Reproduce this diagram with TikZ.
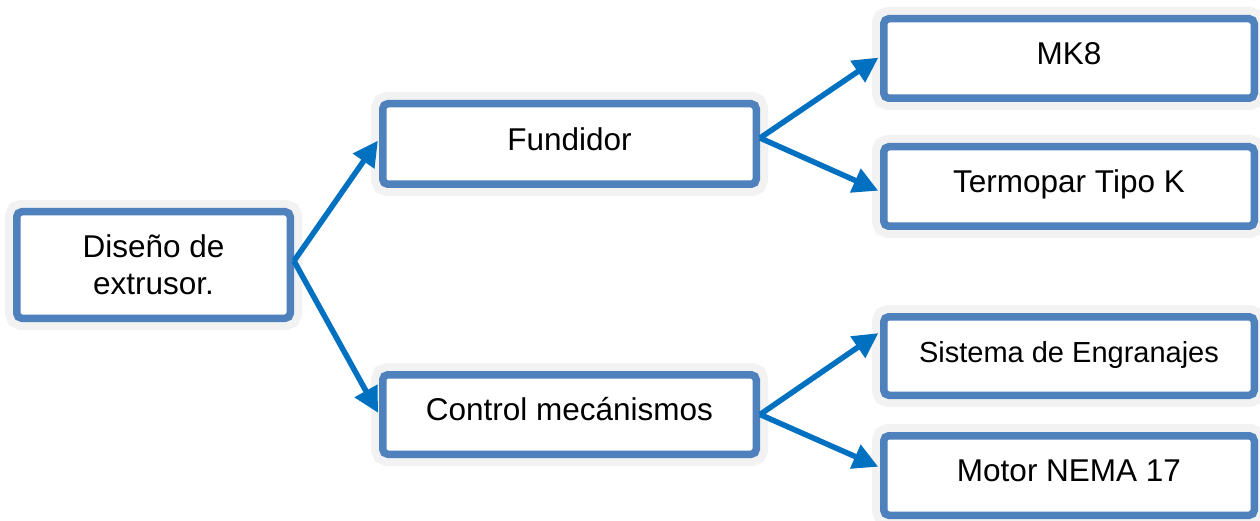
\documentclass[tikz,border=0pt]{standalone}
\usepackage{fontspec}
\setmainfont{Liberation Sans}
\usetikzlibrary{arrows.meta}
\definecolor{boxblue}{HTML}{4F81BD}
\definecolor{glowgray}{HTML}{F2F2F2}
\definecolor{arrowblue}{HTML}{0070C0}
\begin{document}
\begin{tikzpicture}[x=1pt,y=-1pt,
  box/.style={draw=boxblue, line width=7.5pt, fill=white, rounded corners=5pt,
    preaction={draw=glowgray, line width=23.5pt, rounded corners=5pt},
    font=\fontsize{31.5}{37}\selectfont, align=center, inner sep=0pt},
  oneline/.style={text height=24pt, text depth=11.4pt},
  conn/.style={draw=arrowblue, line width=5.5pt, -{Triangle[length=25pt,width=25pt]}, shorten >=2pt}]
\fill[white] (0,0) rectangle (1260,521);
\useasboundingbox (0,0) rectangle (1260,521);

\node[box, minimum width=273.5pt, minimum height=106.5pt] (dis) at (153.5,265) {Diseño de\\extrusor.};
\node[box, oneline, minimum width=373.5pt, minimum height=80.5pt] (fun) at (569.5,144) {Fundidor};
\node[box, oneline, minimum width=373.5pt, minimum height=79.5pt] (con) at (569.5,414.5) {Control mecánismos};
\node[box, oneline, minimum width=370.5pt, minimum height=79.5pt] (mk8) at (1069,58.5) {MK8};
\node[box, oneline, minimum width=370.5pt, minimum height=79.5pt] (ter) at (1069,186.5) {Termopar Tipo K};
\node[box, oneline, minimum width=370.5pt, minimum height=78.5pt, font=\fontsize{29}{34}\selectfont] (sis) at (1069,356) {Sistema de Engranajes};
\node[box, oneline, minimum width=370.5pt, minimum height=79.5pt] (mot) at (1069,475.5) {Motor NEMA 17};

\draw[conn] ([yshift=4pt]dis.east) -- ([yshift=5pt]fun.west);
\draw[conn] ([yshift=4pt]dis.east) -- (con.west);
\draw[conn] ([yshift=6pt]fun.east) -- ([yshift=2pt]mk8.west);
\draw[conn] ([yshift=6pt]fun.east) -- ([yshift=-5pt]ter.west);
\draw[conn] (con.east) -- ([yshift=24pt]sis.west);
\draw[conn] (con.east) -- ([yshift=8pt]mot.west);
\end{tikzpicture}
\end{document}
